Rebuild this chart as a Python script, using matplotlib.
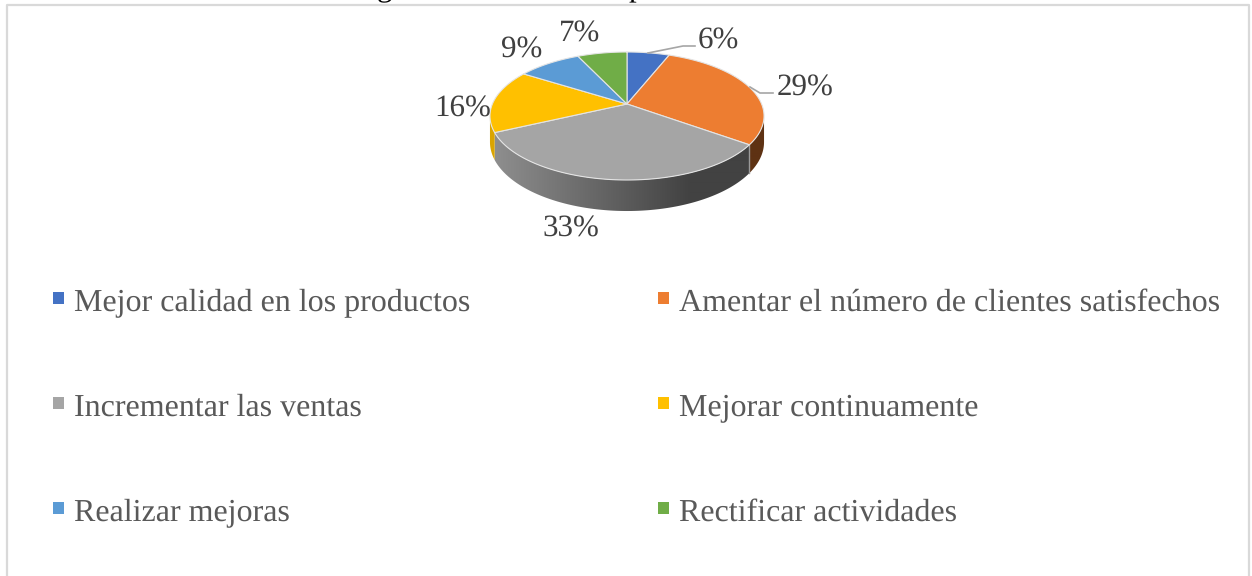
import numpy as np
import matplotlib
matplotlib.use('Agg')
import matplotlib.pyplot as plt
from matplotlib.patches import Polygon, Rectangle

categories = ['Mejor calidad en los productos', 'Amentar el número de clientes satisfechos',
              'Incrementar las ventas', 'Mejorar continuamente',
              'Realizar mejoras', 'Rectificar actividades']
values = [6, 29, 33, 16, 9, 7]
colors = ['#4472c4', '#ed7d31', '#a5a5a5', '#ffc000', '#5b9bd5', '#70ad47']
label_x = [718, 805, 571, 463, 522, 580]
label_y = [38, 85, 226, 106, 47, 31]

W, H = 1252, 576
CX, CY = 627, 104
RX, RY = 134.6, 61.75
K = 0.1875
DEPTH = 25.2


def project(theta, r=1.0):
    # perspective view of the flat disc, theta clockwise from the top
    x = r * np.sin(theta)
    y = r * np.cos(theta)
    w = 1 + K * y
    return CX + RX * x / w, CY - RY * y / w, DEPTH / w


def shade(hex_color, px):
    rgb = np.array(matplotlib.colors.to_rgb(hex_color))
    f = np.clip(0.86 - 0.46 * (px - 495) / 195, 0.40, 0.86)
    return np.outer(f, rgb)


plt.rcParams['font.family'] = ['Liberation Serif', 'DejaVu Serif']
plt.rcParams['text.hinting'] = 'no_hinting'
plt.rcParams['text.hinting_factor'] = 1
fig = plt.figure(figsize=(W / 100, H / 100), dpi=100)
ax = fig.add_axes([0, 0, 1, 1])
ax.axis('off')

# frame, bottom runs off the picture
ax.plot([6.5, 6.5, 1248.5, 1248.5], [H + 5, 4.5, 4.5, H + 5], color='#d9d9d9', lw=1.6)

# bits of the cut off heading
ax.text(384, -4, 'g', fontsize=22, color='black', ha='center', va='baseline', clip_on=True)
ax.text(636, -4, 'p', fontsize=22, color='black', ha='center', va='baseline', clip_on=True)

edges = np.cumsum([0] + values) / sum(values) * 2 * np.pi
wall_from = np.arccos(-K)
wall_to = 2 * np.pi - wall_from

# side wall: a horizontal gradient clipped to the outline of each slice
for i in range(len(values)):
    a0 = max(edges[i], wall_from)
    a1 = min(edges[i + 1], wall_to)
    if a1 <= a0:
        continue
    t = np.linspace(a0, a1, 200)
    px, py, pd = project(t)
    outline = np.column_stack([np.r_[px, px[::-1]], np.r_[py, (py + pd)[::-1]]])
    patch = Polygon(outline, closed=True, facecolor='none', edgecolor='none')
    ax.add_patch(patch)
    left, right = px.min() - 1, px.max() + 1
    xs = np.linspace(left, right, int(right - left) + 1)
    img = ax.imshow(shade(colors[i], xs)[np.newaxis, :, :], aspect='auto', interpolation='bilinear',
                    extent=(left, right, (py + pd).max() + 1, py.min() - 1), zorder=2)
    img.set_clip_path(patch)

ax.set_xlim(0, W)
ax.set_ylim(H, 0)

# light seam on the wall between orange and grey
sx, sy, sd = project(edges[2])
ax.plot([sx, sx], [sy, sy + sd], color='#9a9a9a', lw=1, zorder=3)

# top face
for i in range(len(values)):
    t = np.linspace(edges[i], edges[i + 1], 120)
    px, py, _ = project(t)
    pts = np.column_stack([np.r_[CX, px], np.r_[CY, py]])
    ax.add_patch(Polygon(pts, closed=True, facecolor=colors[i], edgecolor='#e4e4e4',
                         lw=0.8, joinstyle='round', zorder=4))

# leader lines
ax.plot([648, 683, 695], [53, 46, 46], color='#a6a6a6', lw=1.2, zorder=5)
ax.plot([750, 760, 773], [87, 93, 93], color='#a6a6a6', lw=1.2, zorder=5)

for v, lx, ly in zip(values, label_x, label_y):
    ax.text(lx, ly, '{}%'.format(v), fontsize=22, color='#404040', ha='center',
            va='center_baseline', zorder=6)

# legend, two columns
legend_x = [53, 658]
legend_y = [300, 405, 510]
for i, name in enumerate(categories):
    lx = legend_x[i % 2]
    ly = legend_y[i // 2]
    ax.add_patch(Rectangle((lx, ly - 8), 11, 12, facecolor=colors[i], edgecolor='none'))
    ax.text(lx + 21, ly, name, fontsize=23, color='#595959', ha='left', va='center_baseline')

fig.savefig('out.png', dpi=100)
plt.close(fig)
